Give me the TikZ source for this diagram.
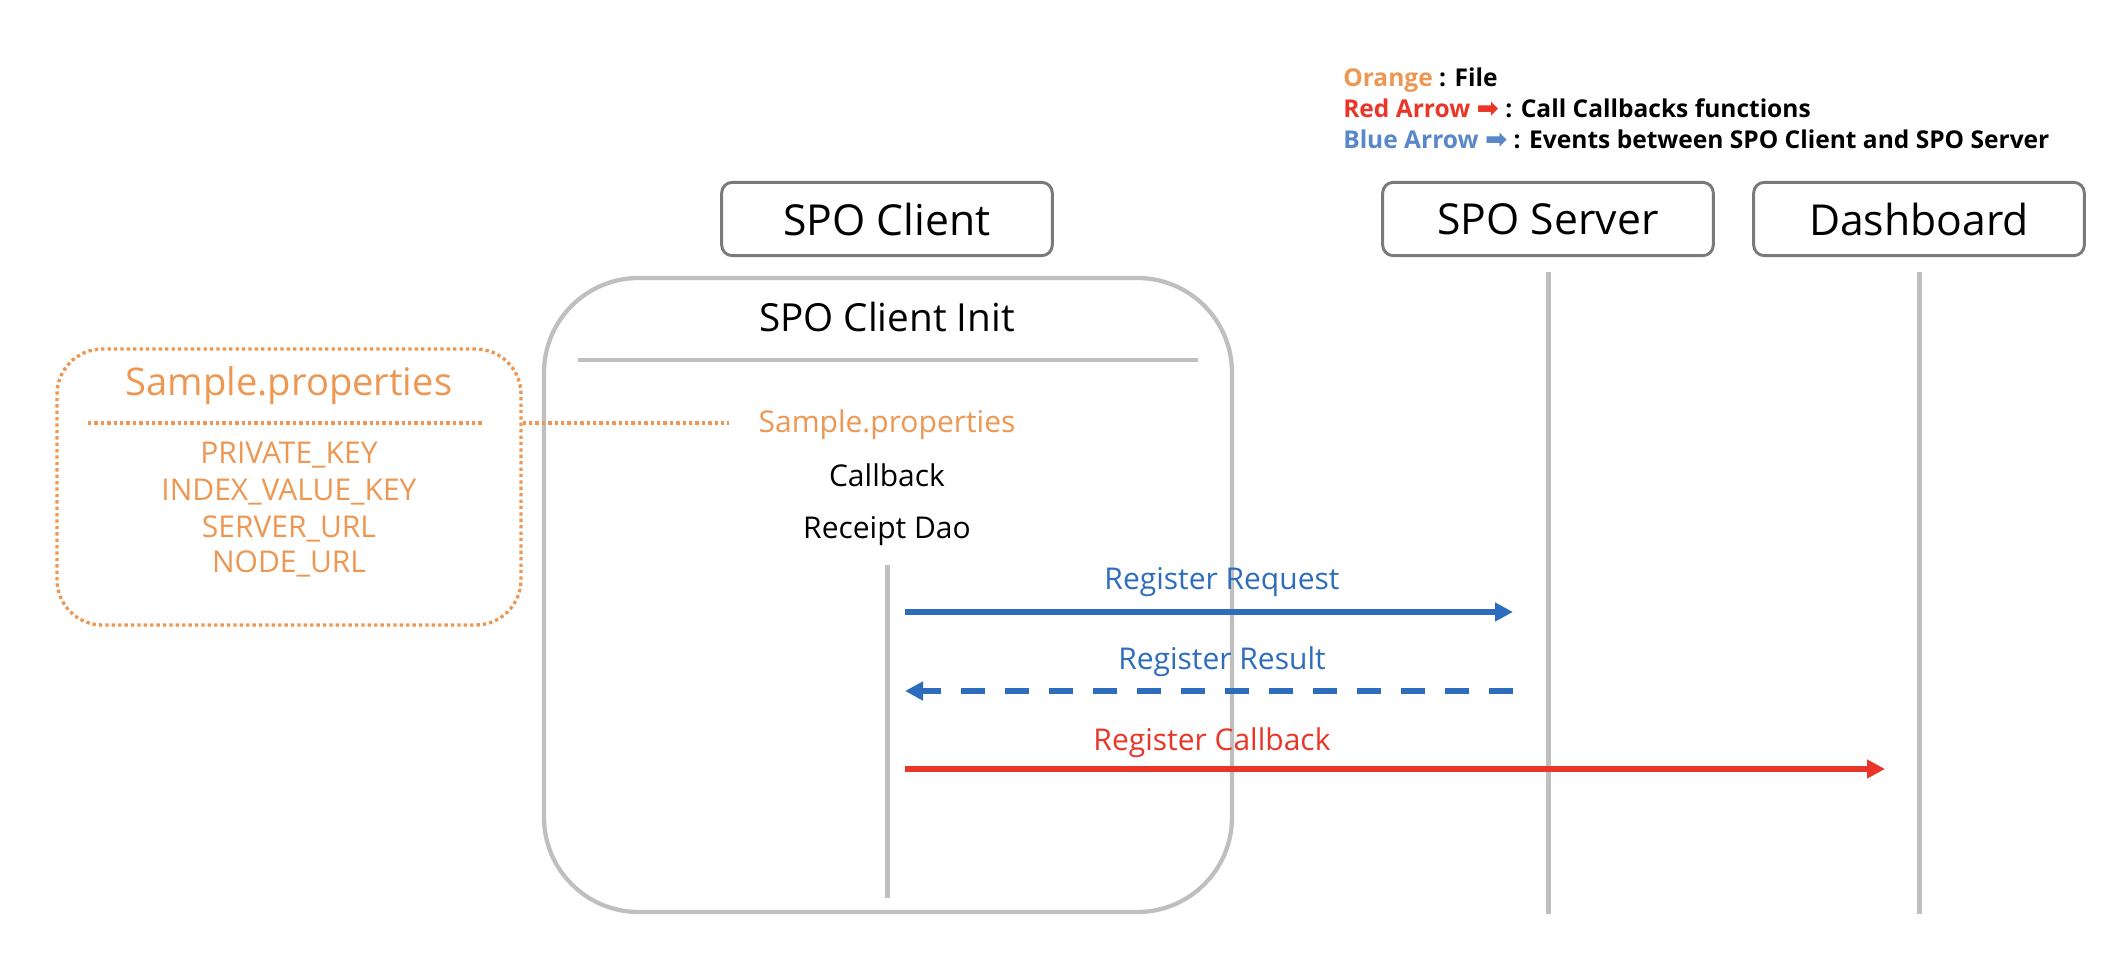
\documentclass[tikz,border=0pt]{standalone}
\usepackage{fontspec}
\setmainfont{Open Sans}
\newfontfamily\arrowfont{DejaVu Sans}
\usetikzlibrary{arrows.meta, positioning}
\definecolor{fileorange}{RGB}{237,151,82}
\definecolor{callred}{RGB}{232,55,40}
\definecolor{evblue}{RGB}{46,109,190}
\definecolor{keyblue}{RGB}{90,135,200}
\definecolor{headgray}{RGB}{122,122,122}
\definecolor{lifegray}{RGB}{191,191,191}

\begin{document}
\begin{tikzpicture}[x=0.75pt,y=-0.75pt,
  >={Triangle[length=13.5pt,width=13.5pt]},
  head/.style={draw=headgray,line width=2.2pt,rounded corners=8pt,
    minimum width=248pt,minimum height=55pt,
    font=\fontsize{32}{38}\selectfont},
  txt/.style={anchor=base,inner sep=0pt,font=\fontsize{22.5}{27}\selectfont},
  legend/.style={anchor=base west,inner sep=0pt,
    font=\fontsize{18.4}{22}\selectfont\bfseries},
  life/.style={draw=lifegray,line width=3.75pt},
  initbox/.style={draw=lifegray,line width=3.2pt,rounded corners=71pt,
    minimum width=516pt,minimum height=475.5pt},
  filebox/.style={draw=fileorange,line width=2.5pt,rounded corners=34pt,
    dash pattern=on 2.5pt off 2.3pt,minimum width=348pt,minimum height=207pt},
  filedot/.style={draw=fileorange,line width=2.5pt,dash pattern=on 2.5pt off 2.3pt},
  msg/.style={->,line width=4.5pt}]
 \useasboundingbox (0,0) rectangle (2118,964);
 \node[legend] (key1) at (1343,86) {\color{fileorange}Orange \color{black}: File};
 \node[legend] (key2) at (1343,117) {\color{callred}Red Arrow {\arrowfont\fontsize{20}{20}\selectfont ➡}
   \color{black}: Call Callbacks functions};
 \node[legend] (key3) at (1343,148) {\color{keyblue}Blue Arrow {\arrowfont\fontsize{20}{20}\selectfont ➡}
   \color{black}: Events between SPO Client and SPO Server};
 \node[head] (client) at (887,219) {SPO Client};
 \node[head] (server) at (1548,219) {SPO Server};
 \node[head] (dash) at (1919,219) {Dashboard};
 \node[initbox] (init) at (888,595) {};
 \node[txt,font=\fontsize{29}{34}\selectfont] (inittitle) at (887,331) {SPO Client Init};
 \draw[draw=lifegray,line width=3.2pt] (578,360) -- (1198,360);
 \node[txt,fileorange] (props) at (887,432) {Sample.properties};
 \node[txt] (cb) at (887,486) {Callback};
 \node[txt] (dao) at (887,538) {Receipt Dao};
 \node[filebox] (file) at (289,487) {};
 \node[txt,fileorange,font=\fontsize{28.6}{34}\selectfont] (filetitle) at (289,395) {Sample.properties};
 \draw[filedot] (88,423) -- (483,423);
 \node[txt,fileorange] (k1) at (289,463) {PRIVATE\_KEY};
 \node[txt,fileorange] (k2) at (289,500) {INDEX\_VALUE\_KEY};
 \node[txt,fileorange] (k3) at (289,537) {SERVER\_URL};
 \node[txt,fileorange] (k4) at (289,572) {NODE\_URL};
 \coordinate (propsin) at (729,423);
 \draw[filedot] (file.east |- propsin) -- (propsin);
 \draw[life] (client |- 0,565) -- (client |- 0,898);
 \draw[life] ([yshift=-11pt]server.south) -- ++(0,642);
 \draw[life] ([yshift=-11pt]dash.south) -- ++(0,642);
 \coordinate (reqA) at (905,612);
 \coordinate (reqB) at (1513,612);
 \coordinate (resA) at (905,691);
 \coordinate (resB) at (1513,691);
 \coordinate (cbA) at (905,769);
 \coordinate (cbB) at (1885,769);
 \node[txt,evblue] (reqlbl) at (1222,589) {Register Request};
 \node[txt,evblue] (reslbl) at (1222,669) {Register Result};
 \node[txt,callred] (cblbl) at (1212,750) {Register Callback};
 \draw[msg,evblue] (reqA) -- (reqB);
 \draw[msg,evblue,dash pattern=on 18pt off 15pt] (resB) -- (resA);
 \draw[msg,callred] (cbA) -- (cbB);
\end{tikzpicture}
\end{document}
